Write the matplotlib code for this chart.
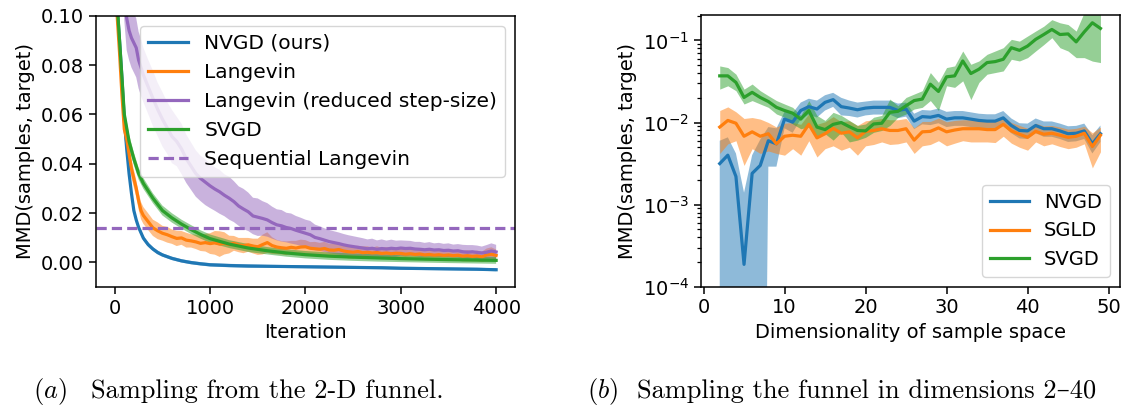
import numpy as np
import matplotlib
matplotlib.use("Agg")
import matplotlib.pyplot as plt

# ---------------- Left panel data (2-D funnel) ----------------
nvgd_iter = [0, 25, 50, 75, 100, 125, 150, 175, 200, 225, 250, 300, 350, 400, 450, 500,
             600, 700, 800, 900, 1000, 1200, 1400, 1600, 1800, 2000, 2200, 2400, 2600,
             2800, 3000, 3200, 3400, 3600, 3800, 4000]
nvgd_mean = [0.30, 0.104, 0.090, 0.075, 0.058, 0.046, 0.036, 0.028, 0.021, 0.0172, 0.0142,
             0.0098, 0.0072, 0.0054, 0.0040, 0.0030, 0.0016, 0.0006, -0.0001, -0.0006,
             -0.0010, -0.0013, -0.0015, -0.0016, -0.0017, -0.0018, -0.0019, -0.0020,
             -0.0021, -0.0022, -0.0024, -0.0025, -0.0026, -0.0027, -0.0028, -0.0030]
nvgd_sd = [0.0, 0.004, 0.003, 0.003, 0.0025, 0.002, 0.0018, 0.0015, 0.0013, 0.0012, 0.0011,
           0.0010, 0.0009, 0.0008, 0.0008, 0.0007, 0.0007, 0.0007, 0.0007, 0.0007, 0.0007,
           0.0007, 0.0007, 0.0006, 0.0006, 0.0006, 0.0006, 0.0006, 0.0006, 0.0006, 0.0006,
           0.0006, 0.0006, 0.0006, 0.0006, 0.0006]

svgd_iter = [0, 25, 50, 75, 100, 150, 200, 250, 300, 400, 500, 600, 700, 800, 900, 1000,
             1200, 1400, 1600, 1800, 2000, 2250, 2500, 2750, 3000, 3250, 3500, 3750, 4000]
svgd_mean = [0.30, 0.105, 0.090, 0.075, 0.060, 0.049, 0.042, 0.036, 0.032, 0.026, 0.021,
             0.018, 0.0155, 0.0133, 0.0113, 0.0096, 0.0074, 0.0058, 0.0047, 0.0038, 0.0031,
             0.0025, 0.0021, 0.0018, 0.0015, 0.0013, 0.0011, 0.00095, 0.0008]
svgd_sd = [0.0, 0.004, 0.0035, 0.003, 0.003, 0.0028, 0.0026, 0.0024, 0.0022, 0.002, 0.002,
           0.0019, 0.0018, 0.0018, 0.0017, 0.0017, 0.0016, 0.0016, 0.0015, 0.0015, 0.0015,
           0.0015, 0.0015, 0.0015, 0.0014, 0.0014, 0.0014, 0.0014, 0.0014]

lang_iter = [0, 25, 50, 75, 100, 125, 150, 175, 200, 225, 250, 275, 300] + list(range(350, 4001, 50))
lang_mean = [0.30, 0.100, 0.085, 0.068, 0.054, 0.050, 0.044, 0.038, 0.034, 0.030, 0.025, 0.021, 0.019,
             0.0165, 0.0140, 0.0128, 0.0118, 0.0112, 0.0104, 0.0097, 0.0099, 0.0090, 0.0087,
             0.0083, 0.0077, 0.0080, 0.0076, 0.0079, 0.0074, 0.0077, 0.0072, 0.0077, 0.0070,
             0.0068, 0.0071, 0.0066, 0.0063, 0.0072, 0.0080, 0.0068, 0.0062, 0.0059, 0.0057,
             0.0061, 0.0058, 0.0062, 0.0063, 0.0057, 0.0055, 0.0053, 0.0056, 0.0050, 0.0049,
             0.0052, 0.0046, 0.0043, 0.0041, 0.0044, 0.0039, 0.0041, 0.0038, 0.0040, 0.0036,
             0.0038, 0.0035, 0.0037, 0.0036, 0.0033, 0.0035, 0.0032, 0.0034, 0.0030, 0.0032,
             0.0029, 0.0031, 0.0028, 0.0030, 0.0027, 0.0029, 0.0025, 0.0027, 0.0024, 0.0026,
             0.0022, 0.0030, 0.0033, 0.0028]
lang_sd = [0.0, 0.004, 0.004, 0.004, 0.004, 0.004, 0.0038, 0.0037, 0.0036, 0.0035, 0.0035, 0.0035, 0.0034,
           0.0034, 0.0033, 0.0034, 0.0030, 0.0032, 0.0029, 0.0031, 0.0028, 0.0030, 0.0027,
           0.0029, 0.0031, 0.0036, 0.0042, 0.0048, 0.0052, 0.0045, 0.0036, 0.0030, 0.0029,
           0.0031, 0.0028, 0.0030, 0.0033, 0.0040, 0.0042, 0.0034, 0.0029, 0.0027, 0.0028,
           0.0026, 0.0029, 0.0030, 0.0027, 0.0025, 0.0028, 0.0026, 0.0027, 0.0025, 0.0028,
           0.0026, 0.0024, 0.0027, 0.0025, 0.0023, 0.0026, 0.0024, 0.0022, 0.0025, 0.0023,
           0.0024, 0.0022, 0.0024, 0.0023, 0.0021, 0.0023, 0.0022, 0.0024, 0.0021, 0.0023,
           0.0020, 0.0022, 0.0021, 0.0023, 0.0020, 0.0022, 0.0021, 0.0023, 0.0020, 0.0022,
           0.0021, 0.0026, 0.0028, 0.0024]

lrs_iter = [0, 25, 50, 75, 100, 125, 150, 175, 200, 225, 250, 275, 300] + list(range(350, 4001, 50))
lrs_mean = [0.40, 0.25, 0.17, 0.135, 0.112, 0.099, 0.094, 0.091, 0.089, 0.087, 0.082, 0.079, 0.076,
            0.0712, 0.0665, 0.0620, 0.0580, 0.0545, 0.0510, 0.0490, 0.0460, 0.0420, 0.0390,
            0.0360, 0.0340, 0.0325, 0.0310, 0.0297, 0.0286, 0.0272, 0.0260, 0.0246, 0.0228,
            0.0216, 0.0205, 0.0188, 0.0183, 0.0178, 0.0172, 0.0161, 0.0152, 0.0148, 0.0141,
            0.0137, 0.0130, 0.0124, 0.0118, 0.0112, 0.0101, 0.0096, 0.0090, 0.0084, 0.0080,
            0.0076, 0.0071, 0.0067, 0.0064, 0.0061, 0.0058, 0.0055, 0.0057, 0.0053, 0.0056,
            0.0054, 0.0057, 0.0055, 0.0058, 0.0056, 0.0057, 0.0054, 0.0053, 0.0051, 0.0053,
            0.0050, 0.0051, 0.0048, 0.0049, 0.0046, 0.0047, 0.0043, 0.0041, 0.0043, 0.0040,
            0.0038, 0.0041, 0.0046, 0.0042]
lrs_sd = [0.0, 0.02, 0.02, 0.016, 0.014, 0.013, 0.012, 0.012, 0.012, 0.012, 0.0115, 0.0115, 0.011,
          0.011, 0.0112, 0.0108, 0.011, 0.0105, 0.0108, 0.010, 0.0102, 0.0098, 0.0096,
          0.0094, 0.0092, 0.0093, 0.0090, 0.0088, 0.0089, 0.0085, 0.0087, 0.0083, 0.0080,
          0.0082, 0.0078, 0.0074, 0.0076, 0.0070, 0.0068, 0.0065, 0.0063, 0.0064, 0.0060,
          0.0061, 0.0058, 0.0057, 0.0055, 0.0056, 0.0052, 0.0050, 0.0048, 0.0047, 0.0046,
          0.0045, 0.0044, 0.0043, 0.0042, 0.0041, 0.0040, 0.0038, 0.0039, 0.0036, 0.0037,
          0.0034, 0.0035, 0.0033, 0.0031, 0.0032, 0.0030, 0.0029, 0.0030, 0.0028, 0.0029,
          0.0027, 0.0028, 0.0027, 0.0028, 0.0026, 0.0027, 0.0028, 0.0029, 0.0027, 0.0028,
          0.0026, 0.0029, 0.0031, 0.0029]

seq_langevin = 0.014

left_labels = ["NVGD (ours)", "Langevin", "Langevin (reduced step-size)", "SVGD",
               "Sequential Langevin"]

# ---------------- Right panel data (funnel, dims 2..49) ----------------
dims = list(range(2, 50))
nvgd_d = [0.00316, 0.0040, 0.0022, 0.000187, 0.0024, 0.0030, 0.0060, 0.0055, 0.0110, 0.0101,
          0.0140, 0.0156, 0.0146, 0.0176, 0.0190, 0.0156, 0.0150, 0.0143, 0.0150, 0.0153,
          0.0153, 0.0153, 0.0140, 0.0146, 0.0104, 0.0118, 0.0116, 0.0122, 0.0110, 0.0114,
          0.0114, 0.0110, 0.0106, 0.0104, 0.0104, 0.0114, 0.0092, 0.0080, 0.0079, 0.0092,
          0.0084, 0.0084, 0.0079, 0.0073, 0.0074, 0.0079, 0.0055, 0.0073]
nvgd_d_hi = [0.0060, 0.0066, 0.0042, 0.0014, 0.0040, 0.0062, 0.0088, 0.0085, 0.0135, 0.0130,
             0.0175, 0.0195, 0.0185, 0.0215, 0.0230, 0.0200, 0.0185, 0.0175, 0.0180, 0.0185,
             0.0185, 0.0185, 0.0170, 0.0175, 0.0128, 0.0142, 0.0140, 0.0148, 0.0135, 0.0138,
             0.0138, 0.0133, 0.0128, 0.0126, 0.0126, 0.0138, 0.0112, 0.0098, 0.0097, 0.0112,
             0.0103, 0.0103, 0.0097, 0.0090, 0.0091, 0.0097, 0.0070, 0.0092]
nvgd_d_lo = [1e-12, 1e-12, 1e-12, 1e-12, 1e-12, 1e-12, 0.0029, 0.0029, 0.0085, 0.0075,
             0.0110, 0.0125, 0.0115, 0.0140, 0.0155, 0.0122, 0.0120, 0.0115, 0.0122, 0.0125,
             0.0125, 0.0125, 0.0113, 0.0118, 0.0083, 0.0095, 0.0093, 0.0098, 0.0088, 0.0091,
             0.0091, 0.0088, 0.0085, 0.0083, 0.0083, 0.0091, 0.0074, 0.0064, 0.0063, 0.0074,
             0.0067, 0.0067, 0.0063, 0.0058, 0.0059, 0.0063, 0.0042, 0.0058]

sgld_d = [0.0088, 0.0106, 0.0098, 0.0068, 0.0077, 0.0068, 0.0073, 0.0055, 0.0068, 0.0070,
          0.0068, 0.0095, 0.0065, 0.0073, 0.0085, 0.0074, 0.0077, 0.0065, 0.0078, 0.0080,
          0.0084, 0.0080, 0.0080, 0.0084, 0.0061, 0.0077, 0.0078, 0.0086, 0.0077, 0.0081,
          0.0084, 0.0084, 0.0084, 0.0082, 0.0082, 0.0095, 0.0079, 0.0072, 0.0066, 0.0078,
          0.0072, 0.0074, 0.0070, 0.0066, 0.0068, 0.0074, 0.0051, 0.0070]
sgld_d_hi = [0.0140, 0.0155, 0.0135, 0.0112, 0.0115, 0.0110, 0.0100, 0.0088, 0.0098, 0.0100,
             0.0095, 0.0128, 0.0095, 0.0102, 0.0118, 0.0102, 0.0105, 0.0092, 0.0105, 0.0108,
             0.0112, 0.0108, 0.0108, 0.0112, 0.0086, 0.0103, 0.0103, 0.0113, 0.0102, 0.0106,
             0.0108, 0.0108, 0.0108, 0.0105, 0.0105, 0.0118, 0.0100, 0.0092, 0.0085, 0.0098,
             0.0091, 0.0092, 0.0088, 0.0083, 0.0085, 0.0090, 0.0075, 0.0088]
sgld_d_lo = [0.0042, 0.0055, 0.0060, 0.0030, 0.0048, 0.0042, 0.0045, 0.0042, 0.0040, 0.0048,
             0.0040, 0.0060, 0.0038, 0.0048, 0.0052, 0.0046, 0.0050, 0.0040, 0.0052, 0.0054,
             0.0058, 0.0054, 0.0055, 0.0058, 0.0042, 0.0052, 0.0054, 0.0060, 0.0052, 0.0056,
             0.0060, 0.0058, 0.0058, 0.0058, 0.0057, 0.0068, 0.0056, 0.0050, 0.0046, 0.0058,
             0.0052, 0.0055, 0.0051, 0.0048, 0.0050, 0.0055, 0.0028, 0.0044]

svgd_d = [0.0370, 0.0370, 0.0308, 0.0202, 0.0233, 0.0202, 0.0180, 0.0153, 0.0140, 0.0130,
          0.0110, 0.0140, 0.0088, 0.0082, 0.0095, 0.0100, 0.0089, 0.0080, 0.0079, 0.0096,
          0.0098, 0.0133, 0.0137, 0.0160, 0.0185, 0.0193, 0.0293, 0.0239, 0.0360, 0.0370,
          0.0562, 0.0395, 0.0446, 0.0537, 0.0552, 0.0589, 0.0815, 0.0757, 0.0854, 0.1030,
          0.1180, 0.1360, 0.1180, 0.1200, 0.0960, 0.1270, 0.1640, 0.1400]
svgd_d_hi = [0.0489, 0.0467, 0.0388, 0.0255, 0.0294, 0.0244, 0.0212, 0.0185, 0.0168, 0.0153,
             0.0122, 0.0185, 0.0122, 0.0106, 0.0133, 0.0122, 0.0106, 0.0092, 0.0096, 0.0116,
             0.0122, 0.0193, 0.0160, 0.0202, 0.0222, 0.0244, 0.0406, 0.0308, 0.0467, 0.0489,
             0.0743, 0.0512, 0.0562, 0.0677, 0.0743, 0.0815, 0.1030, 0.0980, 0.1130, 0.1300,
             0.1490, 0.1790, 0.1640, 0.1560, 0.1300, 0.2200, 0.2500, 0.2300]
svgd_d_lo = [0.0255, 0.0280, 0.0244, 0.0168, 0.0185, 0.0168, 0.0153, 0.0127, 0.0116, 0.0096,
             0.0084, 0.0088, 0.0066, 0.0073, 0.0061, 0.0076, 0.0058, 0.0061, 0.0066, 0.0076,
             0.0080, 0.0092, 0.0116, 0.0127, 0.0146, 0.0153, 0.0185, 0.0140, 0.0280, 0.0268,
             0.0322, 0.0190, 0.0308, 0.0388, 0.0406, 0.0425, 0.0589, 0.0562, 0.0617, 0.0743,
             0.0890, 0.1080, 0.0815, 0.0743, 0.0617, 0.0617, 0.0560, 0.0537]

right_labels = ["NVGD", "SGLD", "SVGD"]

captions = [("$(a)$", "Sampling from the 2-D funnel."),
            ("$(b)$", "Sampling the funnel in dimensions 2\u201340")]

# ---------------- Style ----------------
plt.rcParams.update({
    "font.family": "DejaVu Sans",
    "font.size": 14,
    "axes.linewidth": 1.1,
    "xtick.major.size": 4.8, "ytick.major.size": 4.8,
    "xtick.major.width": 1.1, "ytick.major.width": 1.1,
    "ytick.minor.size": 2.8, "ytick.minor.width": 0.9,
    "legend.fontsize": 14,
})

W, H = 1126, 405
fig = plt.figure(figsize=(W / 100, H / 100), dpi=100)
ax1 = fig.add_axes([95.7 / W, 1 - 287 / H, (515.2 - 95.7) / W, (287 - 15.7) / H])
ax2 = fig.add_axes([700.7 / W, 1 - 286.7 / H, (1119.5 - 700.7) / W, (286.7 - 15) / H])

LW = 2.3
left_series = [
    (nvgd_iter, nvgd_mean, nvgd_sd, "C0"),
    (lang_iter, lang_mean, lang_sd, "C1"),
    (lrs_iter, lrs_mean, lrs_sd, "C4"),
    (svgd_iter, svgd_mean, svgd_sd, "C2"),
]
for (it, m, s, c), lab in zip(left_series, left_labels):
    it = np.asarray(it, float); m = np.asarray(m, float); s = np.asarray(s, float)
    ax1.fill_between(it, m - s, m + s, color=c, alpha=0.5, lw=0)
    ax1.plot(it, m, color=c, lw=LW, label=lab)
ax1.axhline(seq_langevin, color="C4", ls=(0, (3.2, 1.6)), lw=LW, label=left_labels[4])
ax1.set_xlim(-200, 4200)
ax1.set_ylim(-0.01, 0.1)
ax1.set_xticks([0, 1000, 2000, 3000, 4000])
ax1.set_yticks([0.0, 0.02, 0.04, 0.06, 0.08, 0.10])
ax1.set_xlabel("Iteration")
ax1.set_ylabel("MMD(samples, target)")
ax1.legend(loc="upper right", fontsize=14.5)

right_series = [
    (nvgd_d, nvgd_d_lo, nvgd_d_hi, "C0"),
    (sgld_d, sgld_d_lo, sgld_d_hi, "C1"),
    (svgd_d, svgd_d_lo, svgd_d_hi, "C2"),
]
for (m, lo, hi, c), lab in zip(right_series, right_labels):
    ax2.fill_between(dims, lo, hi, color=c, alpha=0.5, lw=0)
    ax2.plot(dims, m, color=c, lw=LW, label=lab)
ax2.set_yscale("log")
ax2.set_ylim(1e-4, 0.204)
ax2.set_xticks([0, 10, 20, 30, 40, 50])
ax2.set_xlabel("Dimensionality of sample space")
ax2.set_ylabel("MMD(samples, target)")
ax2.legend(loc="lower right")

# captions
cap_fs = 19
cap_y = 7 / H
for (tag, txt), xt, xs in zip(captions, [33, 587], [91, 637]):
    fig.text(xt / W, cap_y, tag, fontsize=cap_fs, math_fontfamily="cm")
    fig.text(xs / W, cap_y, txt, fontsize=cap_fs, family=["cmr10", "DejaVu Serif"])

fig.savefig("out.png", dpi=100)
